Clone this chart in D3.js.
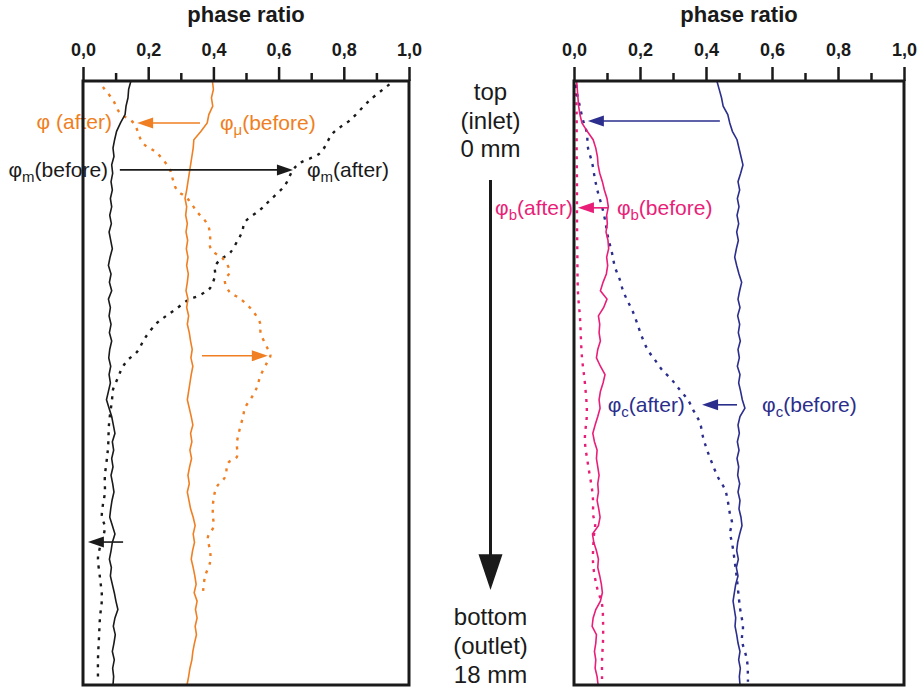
<!DOCTYPE html>
<html>
<head>
<meta charset="utf-8">
<script src="https://cdn.jsdelivr.net/npm/d3@7"></script>
<style>
  body { margin: 0; background: #fff; }
  text { font-family: Arial, "Liberation Sans", Helvetica, sans-serif; }
</style>
</head>
<body>
<div class="chart"></div>
<script>
// depth grid (mm from inlet) for the measured "before" profiles
const depth = d3.range(73).map(i => i * 0.25)

// left panel: solid profiles (before)
const phiM_before = [0.147,0.140,0.138,0.132,0.129,0.115,0.103,0.097,0.092,0.095,0.088,0.091,0.086,0.090,0.084,0.088,0.082,0.087,0.080,0.085,
  0.090,0.083,0.078,0.086,0.081,0.088,0.078,0.084,0.080,0.086,0.081,0.088,0.082,0.079,0.085,0.080,0.084,0.078,0.072,0.080,
  0.088,0.093,0.098,0.090,0.094,0.088,0.092,0.086,0.091,0.095,0.089,0.085,0.082,0.090,0.098,0.090,0.086,0.081,0.087,0.084,
  0.090,0.096,0.101,0.107,0.098,0.093,0.099,0.095,0.090,0.096,0.091,0.094,0.092]
const phiMu_before = [0.397,0.400,0.394,0.398,0.386,0.381,0.362,0.340,0.338,0.334,0.330,0.326,0.322,0.318,0.313,0.318,0.315,0.320,0.316,0.321,
  0.317,0.322,0.318,0.323,0.320,0.316,0.322,0.318,0.324,0.320,0.326,0.330,0.335,0.331,0.337,0.332,0.328,0.324,0.320,0.326,
  0.332,0.337,0.330,0.334,0.328,0.333,0.327,0.322,0.326,0.320,0.325,0.330,0.338,0.344,0.338,0.342,0.336,0.332,0.338,0.343,
  0.347,0.341,0.350,0.345,0.350,0.344,0.348,0.342,0.337,0.334,0.328,0.324,0.319]

// left panel: dotted profiles (after), [mm, ratio]
const phiM_after = [[0.1,0.94],[0.57,0.88],[1.16,0.82],[1.55,0.767],[2.15,0.727],[2.44,0.666],[2.65,0.644],[3.1,0.62],[3.55,0.574],[3.84,0.543],
  [4.2,0.497],[4.5,0.488],[4.74,0.475],[5.12,0.451],[5.33,0.42],[5.54,0.405],[5.78,0.405],[6.17,0.39],[6.38,0.359],[6.53,0.322],
  [6.82,0.282],[7.03,0.251],[7.21,0.227],[7.66,0.19],[8.07,0.166],[8.31,0.138],[8.55,0.12],[8.85,0.107],[9.2,0.092],[9.5,0.089],
  [10.2,0.08],[10.9,0.077],[11.2,0.074],[11.8,0.067],[12.28,0.067],[12.63,0.061],[12.99,0.058],[13.3,0.067],[13.9,0.052],[14.2,0.046],
  [14.8,0.052],[15.4,0.058],[16.0,0.052],[16.6,0.049],[17.2,0.046],[17.85,0.046]]
const phiMu_after = [[0.18,0.061],[0.57,0.092],[0.95,0.113],[1.25,0.155],[1.85,0.184],[2.15,0.227],[2.65,0.267],[2.95,0.276],[3.25,0.288],[3.49,0.319],
  [3.9,0.35],[4.29,0.383],[4.65,0.39],[4.95,0.39],[5.13,0.405],[5.3,0.43],[5.69,0.45],[5.93,0.435],[6.29,0.45],[6.47,0.48],
  [6.82,0.518],[7.21,0.543],[7.51,0.545],[7.93,0.564],[8.17,0.575],[8.4,0.564],[8.82,0.543],[9.12,0.534],[9.42,0.518],[9.74,0.497],
  [10.0,0.491],[10.4,0.48],[10.8,0.472],[11.2,0.472],[11.38,0.445],[11.8,0.436],[12.1,0.41],[12.5,0.40],[12.9,0.398],[13.29,0.40],
  [13.6,0.383],[14.0,0.39],[14.33,0.39],[14.78,0.374],[15.25,0.368]]

// right panel: solid profiles (before)
const phiB_before = [0.008,0.010,0.012,0.014,0.018,0.024,0.040,0.058,0.066,0.071,0.073,0.078,0.086,0.092,0.100,0.104,0.099,0.101,0.097,0.103,
  0.105,0.099,0.102,0.098,0.088,0.080,0.100,0.090,0.074,0.078,0.076,0.080,0.072,0.068,0.080,0.094,0.088,0.080,0.076,0.079,
  0.072,0.064,0.057,0.062,0.070,0.068,0.072,0.076,0.072,0.074,0.070,0.075,0.079,0.074,0.056,0.060,0.068,0.074,0.072,0.078,
  0.083,0.086,0.080,0.066,0.058,0.055,0.068,0.066,0.062,0.066,0.064,0.070,0.073]
const phiC_before = [0.433,0.440,0.447,0.452,0.466,0.472,0.480,0.494,0.500,0.506,0.512,0.505,0.497,0.502,0.495,0.500,0.494,0.499,0.493,0.498,
  0.492,0.487,0.493,0.500,0.508,0.502,0.497,0.503,0.496,0.502,0.498,0.504,0.497,0.501,0.495,0.503,0.499,0.505,0.510,0.518,
  0.503,0.497,0.501,0.495,0.500,0.494,0.499,0.496,0.502,0.497,0.503,0.500,0.506,0.509,0.502,0.496,0.493,0.498,0.492,0.497,
  0.490,0.486,0.482,0.486,0.490,0.488,0.493,0.497,0.503,0.499,0.504,0.501,0.503]

// right panel: dotted profiles (after), [mm, ratio]
const phiB_after = [[0.1,0.006],[1,0.008],[2,0.008],[3,0.009],[4,0.009],[5,0.01],[6.3,0.012],[7.03,0.018],[8.22,0.024],[9.0,0.033],
  [9.9,0.039],[10.7,0.033],[11.4,0.042],[12.2,0.055],[12.57,0.058],[12.93,0.058],[13.2,0.064],[13.6,0.06],[14.4,0.058],[15.1,0.07],
  [15.6,0.085],[16.1,0.088],[16.66,0.088],[17.25,0.085],[17.85,0.085]]
const phiC_after = [[0.12,0.006],[0.36,0.009],[0.77,0.018],[1.16,0.027],[1.55,0.039],[1.97,0.042],[2.44,0.055],[2.95,0.064],[3.34,0.073],[3.75,0.085],
  [4.14,0.094],[4.65,0.103],[5.12,0.115],[5.54,0.124],[5.93,0.139],[6.23,0.148],[6.53,0.161],[6.82,0.176],[7.21,0.191],[7.63,0.206],
  [8.02,0.224],[8.31,0.245],[8.61,0.267],[8.91,0.297],[9.21,0.321],[9.5,0.345],[9.8,0.361],[10.01,0.373],[10.19,0.382],[10.61,0.391],
  [10.99,0.403],[11.38,0.418],[11.8,0.436],[12.19,0.458],[12.57,0.467],[12.93,0.473],[13.17,0.479],[13.47,0.473],[13.77,0.479],[14.7,0.492],
  [15.7,0.503],[16.27,0.512],[16.66,0.509],[17.25,0.524],[17.7,0.527],[17.9,0.527]]

// axis ticks
const majorTicks = [0, 0.2, 0.4, 0.6, 0.8, 1.0]
const minorTicks = [0.1, 0.3, 0.5, 0.7, 0.9]

// annotation arrows: depth (mm), from ratio, to ratio
const arrowsLeft = [
  {key: "mu", mm: 1.25, from: 0.359, to: 0.166},
  {key: "m", mm: 2.65, from: 0.113, to: 0.644},
  {key: "mu", mm: 8.19, from: 0.365, to: 0.567},
  {key: "m", mm: 13.74, from: 0.123, to: 0.015}
]
const arrowsRight = [
  {key: "c", mm: 1.19, from: 0.442, to: 0.042},
  {key: "b", mm: 3.78, from: 0.103, to: 0.012},
  {key: "c", mm: 9.65, from: 0.494, to: 0.388}
]
// labels: main symbol, subscript, rest, ratio position, depth
const labelsLeft = [
  {key: "mu", main: "φ", sub: "", rest: " (after)", v: 0.089, mm: 1.22, anchor: "end"},
  {key: "mu", main: "φ", sub: "μ", rest: "(before)", v: 0.42, mm: 1.25, anchor: "start"},
  {key: "m", main: "φ", sub: "m", rest: "(before)", v: 0.077, mm: 2.65, anchor: "end"},
  {key: "m", main: "φ", sub: "m", rest: "(after)", v: 0.687, mm: 2.65, anchor: "start"}
]
const labelsRight = [
  {key: "b", main: "φ", sub: "b", rest: "(after)", v: -0.003, mm: 3.78, anchor: "end"},
  {key: "b", main: "φ", sub: "b", rest: "(before)", v: 0.13, mm: 3.78, anchor: "start"},
  {key: "c", main: "φ", sub: "c", rest: "(after)", v: 0.336, mm: 9.65, anchor: "end"},
  {key: "c", main: "φ", sub: "c", rest: "(before)", v: 0.57, mm: 9.65, anchor: "start"}
]
const sideText = ["top", "(inlet)", "0 mm"]
const sideTextBottom = ["bottom", "(outlet)", "18 mm"]

const colors = {m: "#1a1a1a", mu: "#ef7f22", b: "#e91e78", c: "#2b2e8c"}

const W = 923, H = 692
const svg = d3.select(".chart").append("svg").attr("width", W).attr("height", H)
  .style("background", "#fff")

const yScale = d3.scaleLinear().domain([0, 18]).range([81, 685])
const xLeft = d3.scaleLinear().domain([0, 1]).range([83, 409])
const xRight = d3.scaleLinear().domain([0, 1]).range([574, 904])

const fmt = d => d3.format(".1f")(d).replace(".", ",")

function drawPanel(x, solids, dotted, arrows, labels) {
  const g = svg.append("g")

  // dotted "after" curves
  const dotLine = d3.line().x(d => x(d[1])).y(d => yScale(d[0])).curve(d3.curveCatmullRom)
  g.selectAll(".dotted").data(dotted).join("path")
    .attr("class", "dotted")
    .attr("d", d => dotLine(d.values))
    .attr("fill", "none")
    .attr("stroke", d => colors[d.key])
    .attr("stroke-width", 2.4)
    .attr("stroke-dasharray", "3,6")

  // solid "before" curves
  const solidLine = d3.line().x(d => x(d[1])).y(d => yScale(d[0]))
  g.selectAll(".solid").data(solids).join("path")
    .attr("class", "solid")
    .attr("d", d => solidLine(d.values.map((v, i) => [depth[i], v])))
    .attr("fill", "none")
    .attr("stroke", d => colors[d.key])
    .attr("stroke-width", 1.6)

  // labels
  labels.forEach(l => {
    const t = g.append("text")
      .attr("x", x(l.v)).attr("y", yScale(l.mm) + 7)
      .attr("fill", colors[l.key]).attr("font-size", 21)
      .attr("text-anchor", l.anchor)
    t.append("tspan").text(l.main)
    if (l.sub) t.append("tspan").attr("font-size", 15).attr("dy", 5).text(l.sub)
    t.append("tspan").attr("dy", l.sub ? -5 : 0).text(l.rest)
  })

  // arrows
  arrows.forEach(a => {
    const yy = yScale(a.mm)
    const x0 = x(a.from), x1 = x(a.to)
    const dir = x1 > x0 ? 1 : -1
    const head = 16, half = 5.5
    g.append("line")
      .attr("x1", x0).attr("x2", x1 - dir * head + dir * 2)
      .attr("y1", yy).attr("y2", yy)
      .attr("stroke", colors[a.key]).attr("stroke-width", 1.6)
    g.append("path")
      .attr("d", `M${x1},${yy}L${x1 - dir * head},${yy - half}L${x1 - dir * head},${yy + half}Z`)
      .attr("fill", colors[a.key])
  })

  // frame
  g.append("rect")
    .attr("x", x(0)).attr("y", yScale(0))
    .attr("width", x(1) - x(0)).attr("height", yScale(18) - yScale(0))
    .attr("fill", "none").attr("stroke", "#1a1a1a").attr("stroke-width", 3)

  // axes on top
  const axMajor = g.append("g").attr("transform", `translate(0,${yScale(0)})`)
    .call(d3.axisTop(x).tickValues(majorTicks).tickSize(14).tickSizeOuter(0).tickPadding(11).tickFormat(fmt))
  const axMinor = g.append("g").attr("transform", `translate(0,${yScale(0)})`)
    .call(d3.axisTop(x).tickValues(minorTicks).tickSize(8).tickSizeOuter(0).tickFormat(""))
  ;[axMajor, axMinor].forEach(ax => {
    ax.select(".domain").remove()
    ax.selectAll(".tick line").attr("stroke", "#1a1a1a").attr("stroke-width", 2.5)
  })
  axMajor.selectAll(".tick text")
    .attr("font-size", 18).attr("font-weight", "bold")
    .attr("font-family", "Arial, 'Liberation Sans', Helvetica, sans-serif")
    .attr("fill", "#1a1a1a")

  g.append("text")
    .attr("x", (x(0) + x(1)) / 2).attr("y", 22)
    .attr("text-anchor", "middle")
    .attr("font-size", 22).attr("font-weight", "bold")
    .attr("fill", "#1a1a1a")
    .text("phase ratio")
}

drawPanel(xLeft,
  [{key: "m", values: phiM_before}, {key: "mu", values: phiMu_before}],
  [{key: "m", values: phiM_after}, {key: "mu", values: phiMu_after}],
  arrowsLeft, labelsLeft)

drawPanel(xRight,
  [{key: "b", values: phiB_before}, {key: "c", values: phiC_before}],
  [{key: "b", values: phiB_after}, {key: "c", values: phiC_after}],
  arrowsRight, labelsRight)

// middle depth indicator
const midX = (xLeft(1) + xRight(0)) / 2 - 1
const mid = svg.append("g")
mid.selectAll(".topText").data(sideText).join("text")
  .attr("class", "topText")
  .attr("x", midX).attr("y", (d, i) => 100 + i * 28.5)
  .attr("text-anchor", "middle").attr("font-size", 24).attr("fill", "#1a1a1a")
  .text(d => d)
mid.selectAll(".botText").data(sideTextBottom).join("text")
  .attr("class", "botText")
  .attr("x", midX).attr("y", (d, i) => 625 + i * 29)
  .attr("text-anchor", "middle").attr("font-size", 24).attr("fill", "#1a1a1a")
  .text(d => d)
mid.append("line")
  .attr("x1", midX).attr("x2", midX)
  .attr("y1", yScale(2.95)).attr("y2", yScale(14.15))
  .attr("stroke", "#1a1a1a").attr("stroke-width", 3)
mid.append("path")
  .attr("d", `M${midX - 12},${yScale(14.1)}L${midX + 12},${yScale(14.1)}L${midX},${yScale(15.17)}Z`)
  .attr("fill", "#1a1a1a")
</script>
</body>
</html>
